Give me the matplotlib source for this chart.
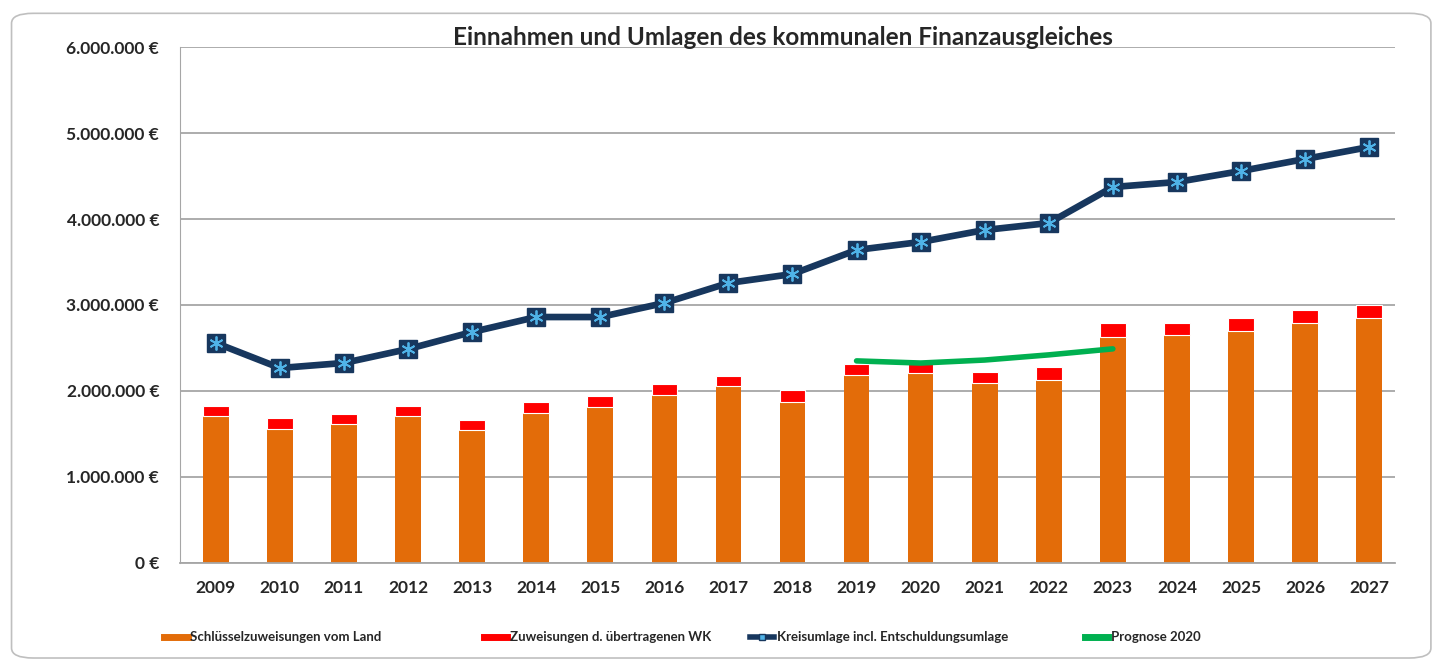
import matplotlib
matplotlib.use('Agg')
from matplotlib import pyplot as plt
from matplotlib.patches import FancyBboxPatch
from matplotlib.lines import Line2D
from matplotlib.ticker import FuncFormatter
import numpy as np

plt.rcParams['font.family'] = ['Lato', 'DejaVu Sans']

years = ['2009', '2010', '2011', '2012', '2013', '2014', '2015', '2016', '2017', '2018',
         '2019', '2020', '2021', '2022', '2023', '2024', '2025', '2026', '2027']

# Schlüsselzuweisungen vom Land
schluessel = [1709000, 1558000, 1616000, 1709000, 1547000, 1744000, 1814000, 1953000, 2058000, 1872000,
              2186000, 2209000, 2093000, 2128000, 2628000, 2651000, 2698000, 2790000, 2849000]
# Zuweisungen d. übertragenen WK
zuweisungen = [117000, 128000, 117000, 117000, 116000, 128000, 128000, 127000, 116000, 140000,
               128000, 117000, 128000, 151000, 162000, 139000, 151000, 152000, 151000]
# Kreisumlage incl. Entschuldungsumlage
kreisumlage = [2558000, 2267000, 2326000, 2488000, 2686000, 2860000, 2860000, 3023000, 3256000, 3360000,
               3640000, 3733000, 3872000, 3953000, 4372000, 4430000, 4558000, 4698000, 4837000]
# Prognose 2020 (2019-2023)
prognose_years = ['2019', '2020', '2021', '2022', '2023']
prognose = [2350000, 2325000, 2360000, 2420000, 2490000]

x = np.arange(len(years))
xp = np.array([years.index(y) for y in prognose_years])

fig = plt.figure(figsize=(14.41, 6.66), dpi=100)

# rounded frame around the chart
frame = FancyBboxPatch((0.008, 0.012), 0.985, 0.968, boxstyle='round,pad=0,rounding_size=0.015',
                       transform=fig.transFigure, facecolor='none', edgecolor='#BFBFBF', linewidth=1.2)
fig.patches.append(frame)

ax = fig.add_axes([0.1249, 0.1547, 0.843, 0.7747])
ax.set_facecolor('none')

ax.bar(x, schluessel, width=0.4, color='#E36C09', zorder=2)
ax.bar(x, zuweisungen, width=0.4, bottom=schluessel, color='#FF0000', edgecolor='white',
       linewidth=0.8, zorder=2)

ax.plot(x, kreisumlage, color='#17375E', linewidth=4.8, zorder=3)
ax.plot(x, kreisumlage, linestyle='none', marker='s', markersize=13, color='#17375E', zorder=4)
ax.plot(x, kreisumlage, linestyle='none', marker=(6, 2, 0), markersize=10, color='#4FB3E8',
        markeredgewidth=1.3, zorder=5)

ax.plot(x[xp], prognose, color='#00B050', linewidth=4, zorder=6, solid_capstyle='round')

ax.set_ylim(0, 6000000)
ax.set_xlim(-0.56, 18.4)
ax.set_yticks(np.arange(0, 6000001, 1000000))
ax.yaxis.set_major_formatter(FuncFormatter(lambda v, p: f'{int(v):,} €'.replace(',', '.')))
ax.set_xticks(x)
ax.set_xticklabels(years)
ax.grid(axis='y', color='#A6A6A6', linewidth=1.3, zorder=0)
for s in ['top', 'right']:
    ax.spines[s].set_visible(False)
ax.spines['left'].set_color('#A6A6A6')
ax.spines['bottom'].set_color('#A6A6A6')
ax.spines['bottom'].set_linewidth(1.3)
ax.tick_params(axis='both', length=0, labelsize=12.5, colors='#262626', pad=12)
ax.tick_params(axis='y', pad=15)
for t in ax.get_xticklabels() + ax.get_yticklabels():
    t.set_fontweight('bold')

fig.text(0.543, 0.943, 'Einnahmen und Umlagen des kommunalen Finanzausgleiches', ha='center', va='center',
         fontsize=17.5, fontweight='bold', color='#262626')

# legend entries, placed one by one like the original
entries = [
    (Line2D([], [], color='#E36C09', linewidth=5), 'Schlüsselzuweisungen vom Land', 0.110),
    (Line2D([], [], color='#FF0000', linewidth=5), 'Zuweisungen d. übertragenen WK', 0.332),
    (Line2D([], [], color='#17375E', linewidth=4, marker='s', markersize=5,
            markerfacecolor='#4FB3E8', markeredgecolor='#17375E'),
     'Kreisumlage incl. Entschuldungsumlage', 0.517),
    (Line2D([], [], color='#00B050', linewidth=5), 'Prognose 2020', 0.749),
]
for h, lab, xpos in entries:
    leg = fig.legend([h], [lab], loc='center left', bbox_to_anchor=(xpos, 0.043), frameon=False,
                     fontsize=9.5, handlelength=1.8, handletextpad=0.2, borderaxespad=0)
    for t in leg.get_texts():
        t.set_fontweight('bold')
        t.set_color('#262626')

fig.savefig('out.png', dpi=100)
